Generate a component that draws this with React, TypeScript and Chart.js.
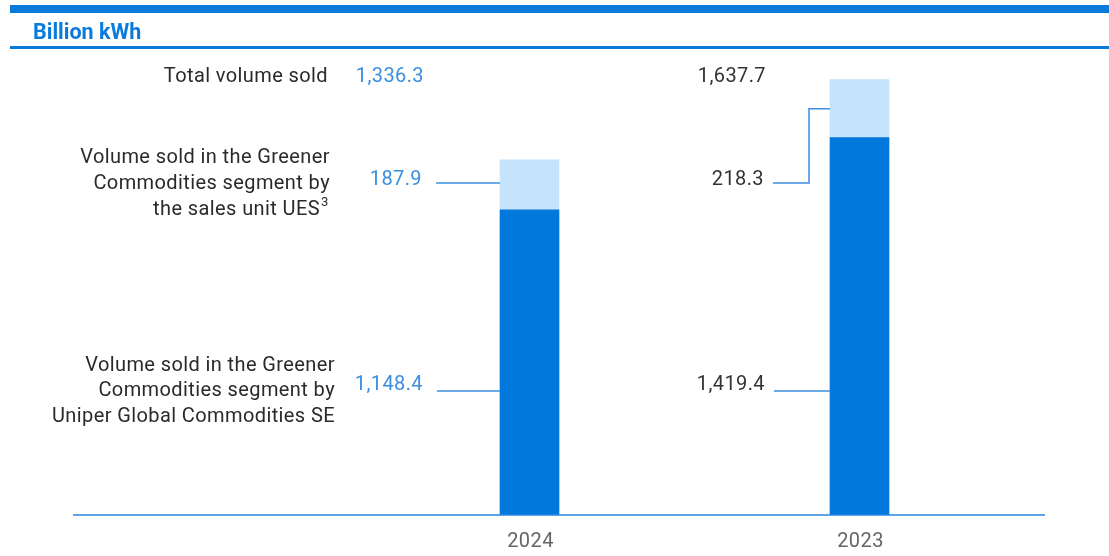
import React, { useEffect, useRef } from "react";
import { Chart, registerables } from "chart.js";

Chart.register(...registerables);

const categories = ["2024", "2023"];
const ugcseValues = [1148.4, 1419.4];
const uesValues = [187.9, 218.3];
const totalValues = [1336.3, 1637.7];
const unitLabel = "Billion kWh";
const rowTotalLabel = ["Total volume sold"];
const rowUesLabel = ["Volume sold in the Greener", "Commodities segment by", "the sales unit UES"];
const rowUgcLabel = ["Volume sold in the Greener", "Commodities segment by", "Uniper Global Commodities SE"];
const uesFootnote = "3";
const valueColors = ["#3A8FE0", "#333333"];

const DARK = "#0078DC";
const LIGHT = "#C5E3FA";
const FONT = "Roboto";
const TXT = `20px ${FONT}`;

const fmt = (v: number) =>
  v.toLocaleString("en-US", { minimumFractionDigits: 1, maximumFractionDigits: 1 });

const overlayPlugin = {
  id: "overlay",
  afterDraw(chart: any) {
    const ctx = chart.ctx as CanvasRenderingContext2D;
    const W = chart.width;
    ctx.save();
    // header
    ctx.fillStyle = "#0A7BDA";
    ctx.fillRect(10, 5, W - 10, 8);
    ctx.fillRect(10, 46, W - 10, 3);
    ctx.font = `bold 21.5px ${FONT}`;
    ctx.textAlign = "left";
    ctx.textBaseline = "alphabetic";
    ctx.fillText(unitLabel, 33, 39);

    // axis line
    const yScale = chart.scales.y;
    const baseY = yScale.getPixelForValue(0);
    ctx.strokeStyle = "#2A86DF";
    ctx.lineWidth = 1.5;
    ctx.beginPath();
    ctx.moveTo(73, baseY);
    ctx.lineTo(1045, baseY);
    ctx.stroke();

    (ctx as any).letterSpacing = "0.4px";
    // left row labels
    ctx.fillStyle = "#2A2A2A";
    ctx.font = TXT;
    ctx.textAlign = "right";
    ctx.fillText(rowTotalLabel[0], 328, 82);
    const uesBase = [163, 189, 215];
    rowUesLabel.forEach((t, i) => {
      const x = i === 2 ? 320 : 330;
      ctx.fillText(t, x, uesBase[i]);
    });
    ctx.font = `13px ${FONT}`;
    ctx.textAlign = "left";
    ctx.fillText(uesFootnote, 321, 206);
    ctx.font = TXT;
    ctx.textAlign = "right";
    const ugcBase = [371, 396, 422];
    rowUgcLabel.forEach((t, i) => ctx.fillText(t, 335, ugcBase[i]));

    const darkMeta = chart.getDatasetMeta(0);
    const lightMeta = chart.getDatasetMeta(1);
    const rowUesY = 183;
    const rowUgcY = 391;
    const labelGap = [77, 65];
    const lineGap = [13, 8];
    categories.forEach((c, i) => {
      const dBar = darkMeta.data[i];
      const lBar = lightMeta.data[i];
      const left = dBar.x - dBar.width / 2;
      const textRight = left - labelGap[i];
      const col = valueColors[i];
      ctx.fillStyle = col;
      ctx.textAlign = "right";
      ctx.font = TXT;
      ctx.fillText(fmt(totalValues[i]), textRight + 1, 82);
      ctx.fillText(fmt(uesValues[i]), textRight - 1, rowUesY + 2);
      ctx.fillText(fmt(ugcseValues[i]), textRight, rowUgcY - 1);

      // connectors
      ctx.strokeStyle = "#3A8FE0";
      ctx.lineWidth = 1.5;
      const lightMid = (lBar.y + lBar.base) / 2;
      const sx = textRight + lineGap[i];
      ctx.beginPath();
      if (Math.abs(lightMid - rowUesY) < 6) {
        ctx.moveTo(sx, rowUesY);
        ctx.lineTo(left, rowUesY);
      } else {
        const ex = left - 21;
        ctx.moveTo(sx, rowUesY);
        ctx.lineTo(ex, rowUesY);
        ctx.lineTo(ex, lightMid);
        ctx.lineTo(left, lightMid);
      }
      ctx.stroke();
      ctx.beginPath();
      ctx.moveTo(sx + 1, rowUgcY);
      ctx.lineTo(left, rowUgcY);
      ctx.stroke();

      // category label
      ctx.fillStyle = "#666666";
      ctx.textAlign = "center";
      ctx.fillText(c, dBar.x + 1, 547);
    });
    ctx.restore();
  },
};

export default function App() {
  const ref = useRef<HTMLCanvasElement | null>(null);
  useEffect(() => {
    document.body.style.margin = "0";
    const canvas = ref.current!;
    const chart = new Chart(canvas, {
      type: "bar",
      data: {
        labels: categories,
        datasets: [
          { label: "UGCSE", data: ugcseValues, backgroundColor: DARK, stack: "s", barThickness: 59 },
          { label: "UES", data: uesValues, backgroundColor: LIGHT, stack: "s", barThickness: 59 },
        ],
      },
      options: {
        responsive: false,
        maintainAspectRatio: false,
        animation: false,
        layout: { padding: { left: 364.5, right: 84.5, top: 63.1, bottom: 41 } },
        plugins: { legend: { display: false }, tooltip: { enabled: false } },
        scales: {
          x: { display: false, stacked: true },
          y: { display: false, stacked: true, min: 0, max: 1700 },
        },
      },
      plugins: [overlayPlugin],
    });
    return () => chart.destroy();
  }, []);
  return (
    <div style={{ position: "absolute", left: 0, top: 0, width: 1109, height: 556, background: "#fff" }}>
      <canvas ref={ref} width={1109} height={556} style={{ display: "block" }} />
    </div>
  );
}
